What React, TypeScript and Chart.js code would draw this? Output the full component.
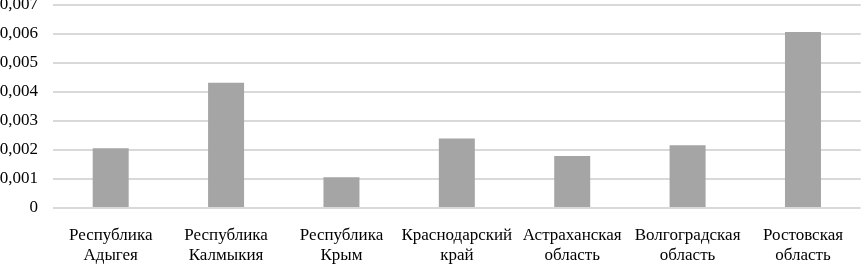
import React, { useEffect, useRef } from "react";
import { Chart, registerables } from "chart.js";

Chart.register(...registerables);

const categories: string[][] = [
  ["Республика", "Адыгея"],
  ["Республика", "Калмыкия"],
  ["Республика", "Крым"],
  ["Краснодарский", "край"],
  ["Астраханская", "область"],
  ["Волгоградская", "область"],
  ["Ростовская", "область"],
];

const values: number[] = [0.00206, 0.00432, 0.00106, 0.0024, 0.00179, 0.00216, 0.00607];

const yMin = 0;
const yMax = 0.007;
const yStep = 0.001;

export default function App() {
  const ref = useRef<HTMLCanvasElement | null>(null);

  useEffect(() => {
    document.body.style.margin = "0";
    const ctx = ref.current;
    if (!ctx) return;
    const family = "'Liberation Serif', 'Times New Roman', serif";
    const chart = new Chart(ctx, {
      type: "bar",
      data: {
        labels: categories,
        datasets: [
          {
            data: values,
            backgroundColor: "#a5a5a5",
            borderWidth: 0,
            categoryPercentage: 1,
            barPercentage: 0.312,
          },
        ],
      },
      options: {
        animation: false,
        responsive: false,
        maintainAspectRatio: false,
        layout: { padding: { top: 0, left: 0, right: 0, bottom: -20 } },
        plugins: { legend: { display: false }, tooltip: { enabled: false } },
        scales: {
          x: {
            grid: { display: false, drawTicks: false },
            border: { display: false },
            ticks: {
              color: "#000",
              font: { family, size: 17, lineHeight: "20px" },
              padding: 18,
              maxRotation: 0,
              autoSkip: false,
            },
          },
          y: {
            min: yMin,
            max: yMax,
            afterFit: (s: any) => {
              s.width = 53;
            },
            grid: {
              color: "#d9d9d9",
              lineWidth: 2,
              drawTicks: true,
              tickLength: 15,
              tickColor: "rgba(0,0,0,0)",
            },
            border: { display: false },
            ticks: {
              stepSize: yStep,
              color: "#000",
              font: { family, size: 17, lineHeight: "10px" },
              padding: 0,
              callback: (v: any) => {
                const n = Number(v);
                if (Math.abs(n) < 1e-9) return "0";
                return n.toFixed(3).replace(".", ",");
              },
            },
          },
        },
      },
    });
    return () => chart.destroy();
  }, []);

  return (
    <div style={{ position: "absolute", left: 0, top: 0, width: 861, height: 264, background: "#fff" }}>
      <canvas ref={ref} width={861} height={264} style={{ display: "block", width: 861, height: 264 }} />
    </div>
  );
}
